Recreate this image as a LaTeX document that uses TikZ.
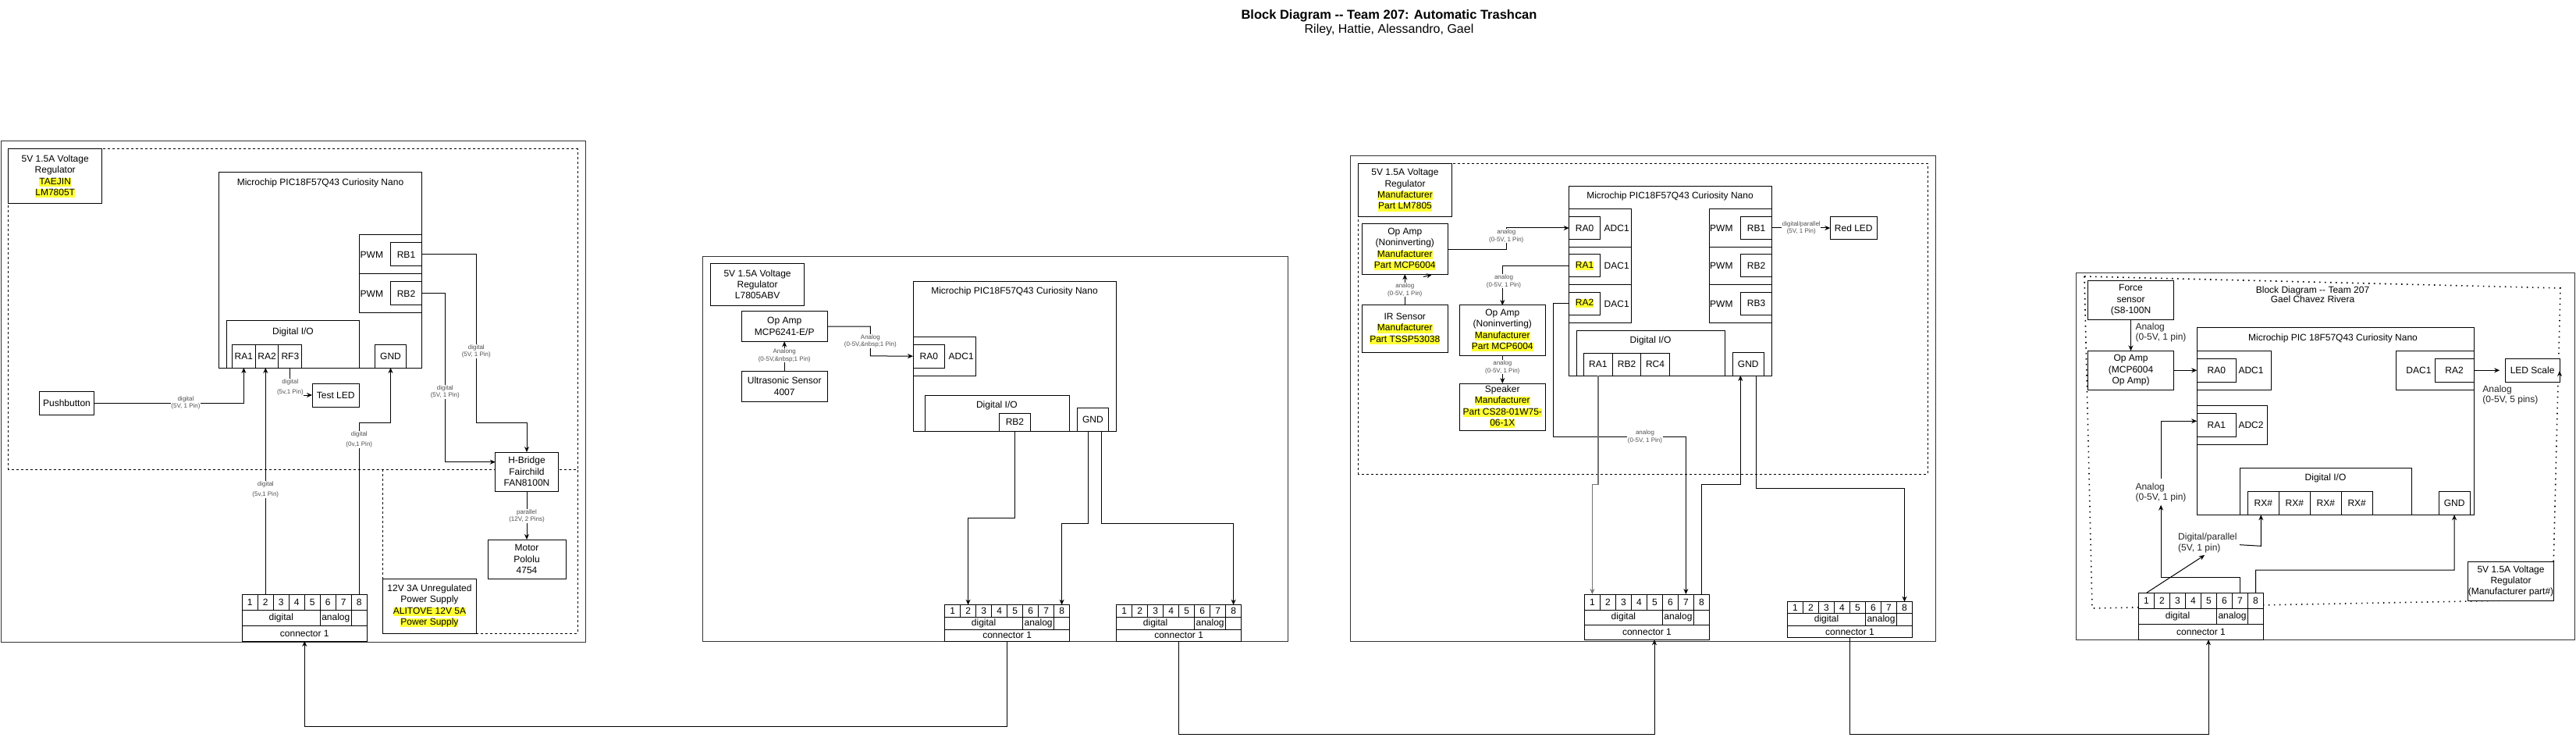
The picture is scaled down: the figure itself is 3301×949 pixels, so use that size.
\documentclass[tikz,border=0pt]{standalone}
\usepackage{fontspec}
\setmainfont{Liberation Sans}
\usetikzlibrary{arrows.meta}
\definecolor{hlyel}{RGB}{255,255,51}
\definecolor{lblgray}{RGB}{80,80,80}
\newcommand\hlt[1]{{\setlength{\fboxsep}{0pt}\colorbox{hlyel}{\rule[-2.7pt]{0pt}{9.8pt}#1}}}
\newcommand\connblk[6]{%
  \foreach \i in {1,...,8}{%
    \node[cell, minimum width=20pt, minimum height=#4pt] (#1p\i) at ({#2+20*(\i-1)},{#3}) {\i};
  }
  \node[cell, minimum width=100pt, minimum height=#5pt] (#1dig) at ({#2},{#3+#4}) {digital};
  \node[cell, minimum width=40pt, minimum height=#5pt] (#1ana) at ({#2+100},{#3+#4}) {analog};
  \node[cell, minimum width=20pt, minimum height=#5pt] (#1emp) at ({#2+140},{#3+#4}) {};
  \node[cell, minimum width=160pt, minimum height=#6pt] (#1bot) at ({#2},{#3+#4+#5}) {connector 1};
}
\begin{document}
\begin{tikzpicture}[x=1pt,y=-1pt,
  box/.style={draw=black, line width=1pt, fill=white, inner sep=0pt, outer sep=0pt, align=center, anchor=north west, font=\fontsize{12}{14.4}\selectfont},
  cell/.style={draw=black, line width=1pt, fill=white, inner sep=0pt, outer sep=0pt, anchor=north west, font=\fontsize{12}{14.4}\selectfont},
  txt/.style={inner sep=0pt, font=\fontsize{12}{14.4}\selectfont, align=center},
  lbl/.style={fill=white, inner sep=0.6pt, text=lblgray, font=\fontsize{8}{9.6}\selectfont, align=center},
  biglbl/.style={inner sep=0pt, text=black!85, font=\fontsize{12}{13.6}\selectfont, align=left, anchor=west},
  wire/.style={draw=black, line width=1pt},
  arr/.style={wire, -{Stealth[length=7pt,width=6pt]}},
  frame/.style={draw=black!80, line width=1pt},
  dashbox/.style={draw=black, line width=1pt, dash pattern=on 3pt off 3pt},
  dotbox/.style={draw=black, line width=1.6pt, dash pattern=on 1.6pt off 5.4pt},
]
\useasboundingbox (0,0) rectangle (3301,949);
\fill[white] (0,0) rectangle (3301,949);

% ---------- title ----------
\node[font=\bfseries\fontsize{16.5}{19}\selectfont] (title) at (1780,20) {Block Diagram -\kern0pt- Team 207: Automatic Trashcan};
\node[font=\fontsize{16}{19}\selectfont] (subtitle) at (1780,38) {Riley, Hattie, Alessandro, Gael};

% ================= PANEL 1 =================
\draw[frame] (1,181) rectangle (750,822);
\draw[dashbox] (10.7,191) rectangle (740,601);
\draw[dashbox] (490,601) rectangle (740,811);
\node[box, minimum width=120pt, minimum height=70pt] (reg1) at (10.7,191) {5V 1.5A Voltage\\Regulator\\\hlt{TAEJIN}\\\hlt{LM7805T}};
\node[box, minimum width=260pt, minimum height=250pt] (mc1) at (280.6,221) {};
\node[txt] (mc1t) at (410.5,234) {Microchip PIC18F57Q43 Curiosity Nano};
\node[box, minimum width=80pt, minimum height=50pt] (pwm1a) at (460.5,301) {};
\node[box, minimum width=80pt, minimum height=50pt] (pwm1b) at (460.5,351) {};
\node[txt, anchor=west] (pwm1at) at (461.5,326) {PWM};
\node[txt, anchor=west] (pwm1bt) at (461.5,376) {PWM};
\node[box, minimum width=40pt, minimum height=30pt] (rb1) at (500.5,311) {RB1};
\node[box, minimum width=40pt, minimum height=30pt] (rb2) at (500.5,361) {RB2};
\node[box, minimum width=170pt, minimum height=60pt] (dio1) at (290.6,411) {};
\node[txt] (dio1t) at (375.5,425) {Digital I/O};
\node[box, minimum width=30pt, minimum height=30pt] (ra1) at (297.4,441) {RA1};
\node[box, minimum width=29.5pt, minimum height=30pt] (ra2) at (327.4,441) {RA2};
\node[box, minimum width=30pt, minimum height=30pt] (rf3) at (356.9,441) {RF3};
\node[box, minimum width=40pt, minimum height=30pt] (gnd1) at (480.5,441) {GND};
\node[box, minimum width=70.4pt, minimum height=30pt] (push) at (50.3,501) {Pushbutton};
\node[box, minimum width=60.5pt, minimum height=30pt] (led1) at (400,491) {Test LED};
\node[box, minimum width=80.4pt, minimum height=50pt] (hb) at (634.8,579) {H-Bridge\\Fairchild\\FAN8100N};
\node[box, minimum width=100pt, minimum height=50pt] (motor) at (625,691) {Motor\\Pololu\\4754};
\node[box, minimum width=120.3pt, minimum height=70pt] (ps) at (490.3,741) {12V 3A Unregulated\\Power Supply\\\hlt{ALITOVE 12V 5A}\\\hlt{Power Supply}};
\connblk{ca}{310.3}{761}{20}{20}{20}

\draw[arr] (push.east) -| (ra1.south);
\node[lbl] at (238,516) {digital\\(5V, 1 Pin)};
\draw[arr] (rf3.south) |- (led1.west);
\node[lbl] at (371.9,496) {digital\\[4pt](5v,1 Pin)};
\draw[arr] (cap2.north) -- (cap2.north |- ra2.south);
\node[lbl] at (340.3,627) {digital\\[4pt](5v,1 Pin)};
\draw[arr] (cap8.north) |- (500.5,541) -- (gnd1.south);
\node[lbl] at (460.3,563) {digital\\[4pt](0v,1 Pin)};
\draw[arr] (rb1.east) -- (610.3,326) |- (675,541) -- (hb.north);
\node[lbl] at (610.3,450) {digital\\(5V, 1 Pin)};
\draw[arr] (rb2.east) -| (570.3,591.7) -- (hb.west |- 0,591.7);
\node[lbl] at (570.3,502) {digital\\(5V, 1 Pin)};
\draw[arr] (hb.south) -- (motor.north);
\node[lbl] at (675,661) {parallel\\(12V, 2 Pins)};

% ================= PANEL 2 =================
\draw[frame] (900,329) rectangle (1650,821);
\node[box, minimum width=120pt, minimum height=54pt] (reg2) at (910.6,337.3) {5V 1.5A Voltage\\Regulator\\L7805ABV};
\node[box, minimum width=110.4pt, minimum height=38.7pt] (op2) at (950,398.7) {Op Amp\\MCP6241-E/P};
\node[box, minimum width=110.4pt, minimum height=38.7pt] (us2) at (950,475.3) {Ultrasonic Sensor\\4007};
\node[box, minimum width=260.6pt, minimum height=192pt] (mc2) at (1170,360.3) {};
\node[txt] (mc2t) at (1300,373.3) {Microchip PIC18F57Q43 Curiosity Nano};
\node[box, minimum width=80.5pt, minimum height=50.3pt] (adc2) at (1170,431) {};
\node[txt] (adc2t) at (1231.7,456) {ADC1};
\node[box, minimum width=40.6pt, minimum height=30.3pt] (ra0b) at (1170,441) {RA0};
\node[box, minimum width=185pt, minimum height=46.3pt] (dio2) at (1185,506) {};
\node[txt] (dio2t) at (1277.4,519.3) {Digital I/O};
\node[box, minimum width=40.3pt, minimum height=23pt] (rb2b) at (1280.3,529.3) {RB2};
\node[box, minimum width=39.8pt, minimum height=30pt] (gnd2) at (1380.5,522.3) {GND};
\connblk{cA}{1210.6}{774.7}{15.3}{16}{15.3}
\connblk{cB}{1430.6}{774.7}{15.3}{16}{15.3}

\draw[arr] (us2.north) -- (op2.south);
\node[lbl] at (1005.2,455.3) {Analong\\(0-5V,\&nbsp;1 Pin)};
\draw[arr] (op2.east) -| (1115.4,455.9) -- (ra0b.west);
\node[lbl] at (1115.4,437) {Analog\\(0-5V,\&nbsp;1 Pin)};
\draw[arr] (rb2b.south) -- (rb2b.south |- 0,663.3) -| (cAp2.north);
\draw[arr] (gnd2.south -| 1394.3,0) -- (1394.3,670) -| (cAp8.north);
\draw[arr] (gnd2.south -| 1411,0) -- (1411,670) -| (cBp8.north);

% ================= PANEL 3 =================
\draw[frame] (1730.7,200) rectangle (2480.3,821);
\draw[dashbox] (1740.7,209.3) rectangle (2470.3,607);
\node[box, minimum width=119.6pt, minimum height=68pt] (reg3) at (1740.7,209.3) {5V 1.5A Voltage\\Regulator\\\hlt{Manufacturer}\\\hlt{Part LM7805}};
\node[box, minimum width=110pt, minimum height=64.3pt] (opA) at (1745.3,287) {Op Amp\\(Noninverting)\\\hlt{Manufacturer}\\\hlt{Part MCP6004}};
\node[box, minimum width=110pt, minimum height=60.3pt] (ir) at (1745.3,391) {IR Sensor\\\hlt{Manufacturer}\\\hlt{Part TSSP53038}};
\node[box, minimum width=110pt, minimum height=64.3pt] (opB) at (1870.3,391) {Op Amp\\(Noninverting)\\\hlt{Manufacturer}\\\hlt{Part MCP6004}};
\node[box, minimum width=110pt, minimum height=60pt] (spk) at (1870.3,491) {Speaker\\\hlt{Manufacturer}\\\hlt{Part CS28-01W75-}\\\hlt{06-1X}};
\node[box, minimum width=260pt, minimum height=242.3pt] (mc3) at (2010.7,238.7) {};
\node[txt] (mc3t) at (2140,251.7) {Microchip PIC18F57Q43 Curiosity Nano};
\node[box, minimum width=79.6pt, minimum height=48.6pt] (blkA) at (2010.7,267.7) {};
\node[box, minimum width=79.6pt, minimum height=48.7pt] (blkB) at (2010.7,316.3) {};
\node[box, minimum width=79.6pt, minimum height=48.3pt] (blkC) at (2010.7,365) {};
\node[txt] (blkAt) at (2071.7,292) {ADC1};
\node[txt] (blkBt) at (2071.7,340.5) {DAC1};
\node[txt] (blkCt) at (2071.7,389) {DAC1};
\node[box, minimum width=39.6pt, minimum height=28.6pt] (ra0c) at (2010.7,277.7) {RA0};
\node[box, minimum width=39.6pt, minimum height=29pt] (ra1c) at (2010.7,326) {\hlt{RA1}};
\node[box, minimum width=39.6pt, minimum height=29pt] (ra2c) at (2010.7,374.3) {\hlt{RA2}};
\node[box, minimum width=80.4pt, minimum height=48.6pt] (pwmA) at (2190.3,267.7) {};
\node[box, minimum width=80.4pt, minimum height=48.7pt] (pwmB) at (2190.3,316.3) {};
\node[box, minimum width=80.4pt, minimum height=48.3pt] (pwmC) at (2190.3,365) {};
\node[txt, anchor=west] (pwmAt) at (2191,292) {PWM};
\node[txt, anchor=west] (pwmBt) at (2191,340.5) {PWM};
\node[txt, anchor=west] (pwmCt) at (2191,389) {PWM};
\node[box, minimum width=40.4pt, minimum height=28.6pt] (rb1c) at (2230.3,277.7) {RB1};
\node[box, minimum width=40.4pt, minimum height=29pt] (rb2c) at (2230.3,326) {RB2};
\node[box, minimum width=40.4pt, minimum height=29pt] (rb3c) at (2230.3,374.3) {RB3};
\node[box, minimum width=190pt, minimum height=58pt] (dio3) at (2020.3,423) {};
\node[txt] (dio3t) at (2115,436.7) {Digital I/O};
\node[box, minimum width=37pt, minimum height=28.7pt] (ra1d) at (2029.3,452.3) {RA1};
\node[box, minimum width=36.4pt, minimum height=28.7pt] (rb2d) at (2066.3,452.3) {RB2};
\node[box, minimum width=36.6pt, minimum height=28.7pt] (rc4d) at (2102.7,452.3) {RC4};
\node[box, minimum width=40pt, minimum height=29.3pt] (gnd3) at (2220.3,451.7) {GND};
\node[box, minimum width=60pt, minimum height=28.6pt] (led3) at (2345.3,277.7) {Red LED};
\connblk{dA}{2030.4}{761}{20}{19.3}{19}
\connblk{dB}{2290.5}{770.7}{15}{16}{15}

\draw[arr] (ir.north) -- (opA.south);
\node[lbl] at (1800.3,371.3) {analog\\(0-5V, 1 Pin)};
\draw[arr] (1824,354.5) -- (1835,351.5);
\draw[arr] (opA.east) -| (1930.3,292) -- (ra0c.west);
\node[lbl] at (1930.3,302.3) {analog\\(0-5V, 1 Pin)};
\draw[arr] (ra1c.west) -| (opB.north);
\node[lbl] at (1927,360.3) {analog\\(0-5V, 1 Pin)};
\draw[arr] (opB.south) -- (spk.north);
\node[lbl] at (1925.3,470.3) {analog\\(0-5V, 1 Pin)};
\draw[arr] (ra2c.west) -| (1990.3,559.3) -| (dAp7.north);
\node[lbl] at (2108,559.3) {analog\\(0-5V, 1 Pin)};
\draw[arr, draw=black!55, line width=1.4pt] (ra1d.south) -- (ra1d.south |- 0,620.7) -| (dAp1.north);
\draw[arr] (dAp8.north) |- (2230.3,620.7) -- (gnd3.south -| 2230.3,0);
\draw[arr] (gnd3.south -| 2250.3,0) -- (2250.3,625.7) -| (dBp8.north);
\draw[arr] (rb1c.east) -- (led3.west);
\node[lbl] at (2308.3,292) {digital/parallel\\(5V, 1 Pin)};

% ================= PANEL 4 =================
\draw[frame] (2660.4,349.3) rectangle (3299.7,819.3);
\draw[dotbox] (2671,354) -- (3281,369) -- (3271,768) -- (2681,779) -- cycle;
\node[txt, font=\fontsize{12}{10}\selectfont] (t4) at (2963.5,377.5) {Block Diagram -\kern0pt- Team 207\\Gael Chavez Rivera};
\node[box, minimum width=109.6pt, minimum height=50pt] (force) at (2675.7,359.3) {Force\\sensor\\(S8-100N};
\node[box, minimum width=109.6pt, minimum height=50pt] (op4) at (2675.7,449.3) {Op Amp\\(MCP6004\\Op Amp)};
\node[box, minimum width=354.8pt, minimum height=240pt] (mc4) at (2815.2,419.3) {};
\node[txt] (mc4t) at (2989.5,433.7) {Microchip PIC 18F57Q43 Curiosity Nano};
\node[box, minimum width=95.4pt, minimum height=50pt] (adc4a) at (2815.2,449.3) {};
\node[txt] (adc4at) at (2884.5,474.3) {ADC1};
\node[box, minimum width=50.2pt, minimum height=30pt] (ra0d) at (2815.2,459.3) {RA0};
\node[box, minimum width=90pt, minimum height=50pt] (adc4b) at (2815.2,519.3) {};
\node[txt] (adc4bt) at (2884.5,544.3) {ADC2};
\node[box, minimum width=50.2pt, minimum height=30pt] (ra1e) at (2815.2,529.3) {RA1};
\node[box, minimum width=99.6pt, minimum height=50pt] (dac4) at (3070.4,449.3) {};
\node[txt] (dac4t) at (3099.4,474.3) {DAC1};
\node[box, minimum width=49.8pt, minimum height=30pt] (ra2e) at (3120.2,459.3) {RA2};
\node[box, minimum width=69.8pt, minimum height=30pt] (leds) at (3210.2,459.3) {LED Scale};
\node[box, minimum width=220pt, minimum height=60pt] (dio4) at (2870,599.3) {};
\node[txt] (dio4t) at (2980,612.7) {Digital I/O};
\node[box, minimum width=39.8pt, minimum height=30pt] (rx1) at (2880.4,629.3) {RX\#};
\node[box, minimum width=40.2pt, minimum height=30pt] (rx2) at (2920.2,629.3) {RX\#};
\node[box, minimum width=39.9pt, minimum height=30pt] (rx3) at (2960.4,629.3) {RX\#};
\node[box, minimum width=39.8pt, minimum height=30pt] (rx4) at (3000.3,629.3) {RX\#};
\node[box, minimum width=39.8pt, minimum height=30pt] (gnd4) at (3125.2,629.3) {GND};
\node[box, minimum width=110pt, minimum height=50pt] (reg4) at (3162.5,719.3) {5V 1.5A Voltage\\Regulator\\(Manufacturer part\#)};
\connblk{ce}{2740.5}{759.3}{20}{20}{20}

\draw[arr] (force.south) -- (op4.north);
\node[biglbl] (alab1) at (2736.3,426) {Analog\\(0-5V, 1 pin)};
\draw[arr] (op4.east) -- (ra0d.west);
\draw[arr] (ra2e.east) -- ([xshift=-7pt]leds.west);
\node[biglbl] (alab3) at (3181.2,506) {Analog\\(0-5V, 5 pins)};
\draw[arr] (3280,484) -- (3280,475);
\node[biglbl] (alab2) at (2736.3,631) {Analog\\(0-5V, 1 pin)};
\draw[arr] (cep7.north) |- (2769.1,739.3) -- (2769.1,646.7);
\draw[arr] (2769.1,613.3) |- (ra1e.west |- 0,539.3);
\node[biglbl] (dlab) at (2791,695.5) {Digital/parallel\\(5V, 1 pin)};
\draw[arr] (cep1.north) -- (2825.1,711);
\draw[arr] (2870,697.7) -- (2897.3,699.3) -- (rx1.south -| 2897.3,0);
\draw[arr] (cep8.north) |- (3145.1,730) -- (gnd4.south);

% ================= links between boards =================
\draw[arr] (cAbot.south) -- (cAbot.south |- 0,930.3) -| (cabot.south);
\draw[arr] (cBbot.south) -- (cBbot.south |- 0,940.3) -| ([xshift=9.6pt]dAbot.south);
\draw[arr] (dBbot.south) -- (dBbot.south |- 0,940.3) -| ([xshift=9.5pt]cebot.south);
\end{tikzpicture}
\end{document}
